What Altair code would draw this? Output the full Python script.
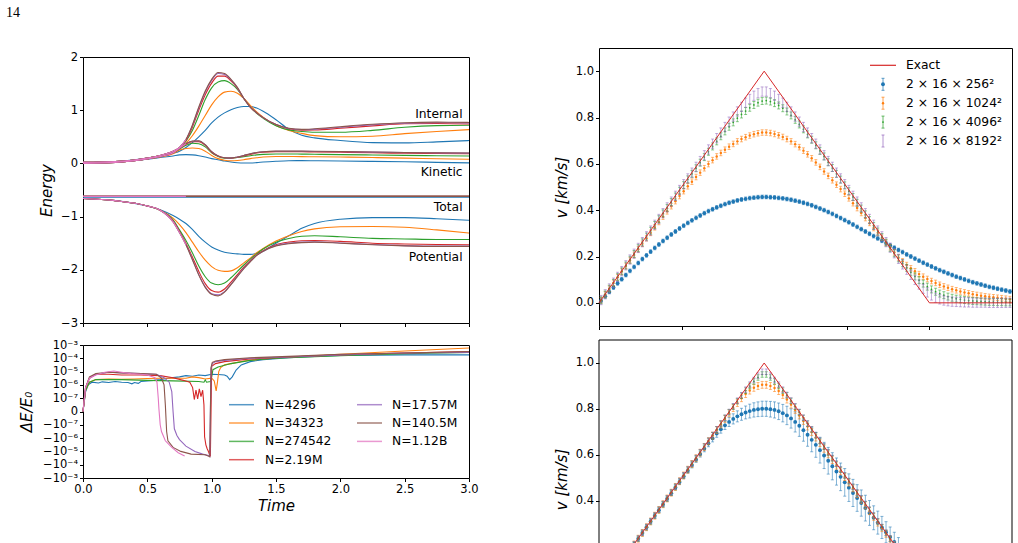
import altair as alt
import numpy as np
import pandas as pd

FONT = "DejaVu Sans"
COLORS = ["#1f77b4", "#ff7f0e", "#2ca02c", "#d62728", "#9467bd", "#8c564b", "#e377c2"]
RUNS = ["N=4296", "N=34323", "N=274542", "N=2.19M", "N=17.57M", "N=140.5M", "N=1.12B"]

# ---------------- Energy panel ----------------
T_E = [0, 0.25, 0.5, 0.6, 0.7, 0.75, 0.8, 0.85, 0.9, 0.95, 1.0, 1.05, 1.1, 1.15,
       1.2, 1.25, 1.3, 1.35, 1.4, 1.5, 1.6, 1.7, 1.8, 2.0, 2.25, 2.5, 2.75, 3.0]

INT_4296 = [0.02, 0.035, 0.10, 0.14, 0.19, 0.23, 0.30, 0.39, 0.50, 0.62, 0.76, 0.87, 0.95, 1.01,
            1.05, 1.07, 1.07, 1.04, 0.98, 0.82, 0.64, 0.53, 0.48, 0.43, 0.39, 0.385, 0.405, 0.43]
INT_34323 = [0.02, 0.035, 0.10, 0.15, 0.21, 0.28, 0.38, 0.52, 0.70, 0.90, 1.10, 1.25, 1.34, 1.355,
             1.32, 1.22, 1.09, 0.97, 0.87, 0.71, 0.62, 0.565, 0.522, 0.50, 0.51, 0.56, 0.60, 0.635]
INT_274542 = [0.02, 0.035, 0.10, 0.15, 0.22, 0.29, 0.42, 0.62, 0.90, 1.20, 1.42, 1.53, 1.555, 1.50,
              1.39, 1.22, 1.06, 0.94, 0.85, 0.71, 0.63, 0.60, 0.585, 0.585, 0.62, 0.68, 0.71, 0.716]
INT_219M = [0.02, 0.035, 0.10, 0.15, 0.23, 0.29, 0.43, 0.68, 1.0, 1.29, 1.51, 1.64, 1.64, 1.55,
            1.41, 1.22, 1.06, 0.95, 0.86, 0.73, 0.65, 0.625, 0.628, 0.66, 0.705, 0.745, 0.75, 0.74]
INT_1757M = [0.02, 0.035, 0.10, 0.15, 0.23, 0.30, 0.45, 0.71, 1.04, 1.34, 1.56, 1.69, 1.67, 1.57,
             1.42, 1.22, 1.06, 0.95, 0.86, 0.73, 0.655, 0.635, 0.64, 0.68, 0.725, 0.755, 0.765, 0.76]
INT_1405M = [0.02, 0.035, 0.10, 0.15, 0.23, 0.30, 0.45, 0.72, 1.06, 1.36, 1.58, 1.71, 1.69, 1.58,
             1.43, 1.22, 1.06, 0.95, 0.86, 0.73, 0.66, 0.64, 0.65, 0.69, 0.735, 0.765, 0.775, 0.77]
INT_112B = [0.02, 0.035, 0.10, 0.15, 0.23, 0.30, 0.45]

KIN_4296 = [0.0, 0.02, 0.08, 0.11, 0.14, 0.16, 0.165, 0.16, 0.145, 0.12, 0.09, 0.07, 0.045, 0.025,
            0.012, 0.007, 0.008, 0.015, 0.025, 0.04, 0.05, 0.052, 0.05, 0.045, 0.038, 0.03, 0.02, 0.01]
KIN_34323 = [0.0, 0.02, 0.085, 0.12, 0.18, 0.25, 0.28, 0.29, 0.28, 0.23, 0.15, 0.09, 0.06, 0.05,
             0.055, 0.07, 0.09, 0.105, 0.12, 0.13, 0.13, 0.128, 0.125, 0.12, 0.11, 0.1, 0.088, 0.077]
KIN_274542 = [0.0, 0.02, 0.085, 0.13, 0.2, 0.27, 0.34, 0.38, 0.37, 0.31, 0.2, 0.13, 0.10, 0.10,
              0.11, 0.125, 0.145, 0.16, 0.17, 0.178, 0.178, 0.175, 0.172, 0.165, 0.158, 0.15, 0.145, 0.14]
KIN_219M = [0.0, 0.02, 0.085, 0.13, 0.2, 0.28, 0.36, 0.41, 0.41, 0.34, 0.21, 0.14, 0.105, 0.10,
            0.115, 0.14, 0.17, 0.195, 0.21, 0.22, 0.22, 0.218, 0.215, 0.21, 0.2, 0.19, 0.185, 0.18]
KIN_1757M = [0.0, 0.02, 0.085, 0.13, 0.2, 0.285, 0.37, 0.415, 0.42, 0.35, 0.22, 0.14, 0.105, 0.10,
             0.12, 0.15, 0.18, 0.205, 0.22, 0.228, 0.228, 0.226, 0.225, 0.222, 0.212, 0.203, 0.198, 0.193]
KIN_1405M = [0.0, 0.02, 0.085, 0.13, 0.2, 0.29, 0.37, 0.42, 0.425, 0.35, 0.22, 0.14, 0.105, 0.10,
             0.12, 0.15, 0.18, 0.205, 0.22, 0.23, 0.23, 0.23, 0.228, 0.225, 0.215, 0.205, 0.2, 0.195]
KIN_112B = [0.0, 0.02, 0.085, 0.13, 0.2, 0.29, 0.37]

POT_4296 = [-0.66, -0.70, -0.80, -0.87, -0.98, -1.05, -1.13, -1.24, -1.37, -1.48, -1.57, -1.63, -1.67, -1.69,
            -1.70, -1.71, -1.71, -1.69, -1.65, -1.50, -1.36, -1.22, -1.13, -1.05, -1.02, -1.02, -1.04, -1.07]
POT_34323 = [-0.66, -0.70, -0.80, -0.88, -1.03, -1.15, -1.30, -1.48, -1.66, -1.82, -1.94, -2.01, -2.03, -2.02,
             -1.96, -1.87, -1.78, -1.68, -1.60, -1.46, -1.36, -1.28, -1.23, -1.19, -1.185, -1.2, -1.25, -1.31]
POT_274542 = [-0.66, -0.70, -0.80, -0.88, -1.06, -1.25, -1.45, -1.68, -1.93, -2.13, -2.25, -2.28, -2.25, -2.15,
              -2.03, -1.91, -1.80, -1.70, -1.61, -1.48, -1.41, -1.37, -1.36, -1.38, -1.41, -1.42, -1.43, -1.43]
POT_219M = [-0.66, -0.70, -0.80, -0.88, -1.08, -1.28, -1.5, -1.76, -2.03, -2.26, -2.39, -2.42, -2.36, -2.23,
            -2.09, -1.95, -1.83, -1.72, -1.64, -1.53, -1.48, -1.455, -1.45, -1.465, -1.5, -1.515, -1.525, -1.53]
POT_1757M = [-0.66, -0.70, -0.80, -0.88, -1.09, -1.3, -1.52, -1.8, -2.09, -2.32, -2.45, -2.47, -2.41, -2.27,
             -2.12, -1.97, -1.84, -1.73, -1.65, -1.545, -1.50, -1.48, -1.475, -1.495, -1.525, -1.545, -1.555, -1.555]
POT_1405M = [-0.66, -0.70, -0.80, -0.88, -1.1, -1.3, -1.53, -1.81, -2.1, -2.33, -2.46, -2.49, -2.42, -2.28,
             -2.13, -1.98, -1.85, -1.73, -1.65, -1.55, -1.51, -1.49, -1.48, -1.5, -1.53, -1.55, -1.56, -1.56]
POT_112B = [-0.66, -0.70, -0.80, -0.88, -1.1, -1.3, -1.53]

TOT_LEVEL = [-0.635, -0.62, -0.62, -0.62, -0.62, -0.62, -0.62]
TOT_T = [[0.0, 3.0], [0.0, 3.0], [0.0, 3.0], [0.0, 3.0], [0.0, 3.0], [0.0, 3.0], [0.0, 0.8]]

INTERNAL = [INT_4296, INT_34323, INT_274542, INT_219M, INT_1757M, INT_1405M, INT_112B]
KINETIC = [KIN_4296, KIN_34323, KIN_274542, KIN_219M, KIN_1757M, KIN_1405M, KIN_112B]
POTENTIAL = [POT_4296, POT_34323, POT_274542, POT_219M, POT_1757M, POT_1405M, POT_112B]

LABEL_TEXT = ["Internal", "Kinetic", "Total", "Potential"]
LABEL_T = [2.95, 2.95, 2.95, 2.95]
LABEL_E = [0.93, -0.167, -0.82, -1.765]

# ---------------- Energy error panel (dE/E0) ----------------
DT = [
    [0, 0.02, 0.04, 0.07, 0.12, 0.15, 0.2, 0.25, 0.3, 0.35, 0.38, 0.4, 0.43, 0.45, 0.5, 0.55, 0.6, 0.65, 0.7,
     0.75, 0.8, 0.85, 0.9, 0.95, 1.0, 1.05, 1.1, 1.12, 1.14, 1.16, 1.19, 1.23, 1.3, 1.4, 1.6, 1.8, 2.0, 2.5, 3.0],
    [0, 0.02, 0.05, 0.1, 0.2, 0.3, 0.4, 0.5, 0.6, 0.7, 0.8, 0.85, 0.9, 0.95, 1.0, 1.02, 1.035, 1.045, 1.055,
     1.07, 1.1, 1.15, 1.25, 1.4, 1.6, 2.0, 2.5, 3.0],
    [0, 0.02, 0.05, 0.1, 0.3, 0.5, 0.7, 0.9, 0.94, 0.95, 0.96, 0.99, 1.0, 1.01, 1.05, 1.15, 1.3, 1.5, 2.0, 2.5, 3.0],
    [0, 0.02, 0.05, 0.1, 0.2, 0.3, 0.45, 0.6, 0.7, 0.78, 0.83, 0.852, 0.865, 0.878, 0.891, 0.904, 0.917, 0.93,
     0.94, 0.945, 0.955, 0.965, 0.975, 0.982, 0.99, 1.0, 1.03, 1.1, 1.3, 1.6, 2.0, 2.5, 3.0],
    [0, 0.02, 0.05, 0.1, 0.2, 0.3, 0.45, 0.57, 0.63, 0.67, 0.69, 0.70, 0.71, 0.73, 0.75, 0.8, 0.87, 0.93,
     0.975, 0.985, 0.995, 1.005, 1.03, 1.1, 1.3, 1.6, 2.0, 2.5, 3.0],
    [0, 0.02, 0.05, 0.1, 0.2, 0.3, 0.45, 0.57, 0.61, 0.63, 0.64, 0.65, 0.66, 0.7, 0.76, 0.84, 0.95, 0.985,
     0.995, 1.005, 1.03, 1.1, 1.3, 1.6, 2.0, 2.5, 3.0],
    [0, 0.02, 0.05, 0.1, 0.17, 0.24, 0.3, 0.37, 0.45, 0.5, 0.56, 0.575, 0.585, 0.59, 0.6, 0.61, 0.64, 0.69,
     0.74, 0.79],
]
DE = [
    [0, 3e-7, 1e-6, 1.6e-6, 1.4e-6, 1.7e-6, 1.5e-6, 1.8e-6, 1.6e-6, 1.5e-6, 1.2e-6, 1.5e-6, 1.3e-6, 1.8e-6,
     2e-6, 2.2e-6, 2.5e-6, 3e-6, 3.5e-6, 4e-6, 5e-6, 4.5e-6, 5.6e-6, 5e-6, 6.3e-6, 6e-6, 5.5e-6, 4.5e-6,
     2.5e-6, 4e-6, 1.3e-5, 3.2e-5, 5.6e-5, 8e-5, 1.1e-4, 1.4e-4, 1.65e-4, 1.8e-4, 1.8e-4],
    [0, 4e-7, 1.6e-6, 2.5e-6, 2.8e-6, 2.6e-6, 2.8e-6, 3e-6, 3.2e-6, 3.2e-6, 3.2e-6, 4e-6, 3.5e-6, 2.8e-6,
     3.2e-6, 2e-6, 3.5e-7, 1.6e-6, 1e-5, 2e-5, 3.2e-5, 4e-5, 6.3e-5, 9e-5, 1.26e-4, 2e-4, 3.5e-4, 6e-4],
    [0, 4e-7, 1.6e-6, 2.5e-6, 2.5e-6, 2.2e-6, 2e-6, 1.8e-6, 1.6e-6, 2.4e-6, 1.6e-6, 1.8e-6, 4e-6, 1.4e-5,
     2.2e-5, 4e-5, 7e-5, 1e-4, 1.6e-4, 2.2e-4, 2.8e-4],
    [0, 6.3e-7, 3.2e-6, 6.3e-6, 6.3e-6, 5.6e-6, 5.6e-6, 5e-6, 3.5e-6, 2.2e-6, 1.6e-6, 6.3e-7, 9e-8, 4e-7,
     9.5e-8, 5e-7, 1.3e-7, 4e-7, 5e-8, -8e-7, -3.2e-6, -6.3e-6, -1e-5, -1.6e-5, -2e-5, 2.5e-5, 4e-5, 5.6e-5,
     9e-5, 1.26e-4, 1.8e-4, 2.5e-4, 3.2e-4],
    [0, 6.3e-7, 3.2e-6, 6.3e-6, 9e-6, 8e-6, 7e-6, 6.3e-6, 3.5e-6, 1.6e-6, 3.2e-7, 0, -2e-7, -6.3e-7, -1.3e-6,
     -4e-6, -1e-5, -1.6e-5, -2e-5, -2.5e-5, 1.6e-5, 4e-5, 5.6e-5, 7e-5, 1e-4, 1.26e-4, 1.8e-4, 2.5e-4, 2.8e-4],
    [0, 6.3e-7, 4e-6, 7e-6, 9e-6, 8e-6, 7e-6, 6.3e-6, 3.2e-6, 1e-6, 5e-8, -3.2e-7, -1.6e-6, -5e-6, -1e-5,
     -1.6e-5, -1.8e-5, -2.5e-5, 2e-5, 5e-5, 6.3e-5, 8e-5, 1.1e-4, 1.4e-4, 2e-4, 2.5e-4, 3.2e-4],
    [0, 6.3e-7, 3.2e-6, 5.6e-6, 9e-6, 1.1e-5, 9e-6, 7e-6, 6.3e-6, 5.6e-6, 3.5e-6, 1.6e-6, 1e-7, 2e-8, -1e-7,
     -3.2e-7, -1.6e-6, -5e-6, -1.26e-5, -2.2e-5],
]

# ---------------- Velocity panels ----------------
X_V = [round(0.005 + 0.01 * i, 3) for i in range(100)]
EXACT_X = [0.0, 0.4, 0.8, 1.0]
EXACT_V = [0.0, 1.0, 0.0, 0.0]
RES_LABELS = ["2 × 16 × 256²", "2 × 16 × 1024²", "2 × 16 × 4096²", "2 × 16 × 8192²"]
RES_COLORS = ["#1f77b4", "#ff7f0e", "#2ca02c", "#9467bd"]
RES_DOT = [15, 6, 3, 0]

V256 = [0.009, 0.028, 0.047, 0.066, 0.084, 0.102, 0.120, 0.138, 0.155, 0.172,
        0.189, 0.205, 0.221, 0.237, 0.252, 0.267, 0.281, 0.295, 0.308, 0.321,
        0.333, 0.345, 0.356, 0.367, 0.377, 0.387, 0.396, 0.404, 0.412, 0.419,
        0.426, 0.432, 0.437, 0.442, 0.446, 0.449, 0.452, 0.454, 0.456, 0.457,
        0.457, 0.456, 0.455, 0.453, 0.451, 0.448, 0.445, 0.441, 0.437, 0.432,
        0.427, 0.421, 0.414, 0.407, 0.400, 0.392, 0.384, 0.375, 0.366, 0.357,
        0.348, 0.338, 0.328, 0.318, 0.308, 0.298, 0.288, 0.278, 0.268, 0.258,
        0.248, 0.238, 0.228, 0.219, 0.209, 0.200, 0.191, 0.182, 0.173, 0.165,
        0.157, 0.149, 0.141, 0.134, 0.127, 0.120, 0.113, 0.107, 0.101, 0.095,
        0.089, 0.084, 0.079, 0.074, 0.069, 0.065, 0.061, 0.057, 0.053, 0.049]
V1024 = [0.011, 0.036, 0.061, 0.086, 0.110, 0.135, 0.159, 0.183, 0.207, 0.231,
         0.255, 0.279, 0.302, 0.326, 0.349, 0.372, 0.395, 0.417, 0.439, 0.461,
         0.482, 0.503, 0.523, 0.543, 0.562, 0.581, 0.599, 0.616, 0.632, 0.647,
         0.661, 0.674, 0.686, 0.697, 0.707, 0.715, 0.722, 0.728, 0.732, 0.735,
         0.735, 0.733, 0.729, 0.723, 0.716, 0.707, 0.697, 0.685, 0.672, 0.657,
         0.641, 0.624, 0.606, 0.587, 0.567, 0.548, 0.529, 0.510, 0.491, 0.471,
         0.451, 0.430, 0.409, 0.388, 0.366, 0.345, 0.323, 0.302, 0.281, 0.260,
         0.240, 0.218, 0.196, 0.179, 0.163, 0.149, 0.136, 0.124, 0.113, 0.103,
         0.094, 0.086, 0.078, 0.071, 0.065, 0.059, 0.054, 0.049, 0.045, 0.041,
         0.037, 0.034, 0.031, 0.028, 0.026, 0.024, 0.022, 0.020, 0.018, 0.016]
V4096 = [0.011, 0.036, 0.061, 0.086, 0.111, 0.136, 0.161, 0.186, 0.211, 0.236,
         0.261, 0.286, 0.311, 0.336, 0.361, 0.386, 0.410, 0.435, 0.459, 0.484,
         0.508, 0.533, 0.557, 0.581, 0.605, 0.629, 0.652, 0.675, 0.697, 0.719,
         0.740, 0.760, 0.779, 0.797, 0.813, 0.828, 0.842, 0.854, 0.864, 0.871,
         0.873, 0.869, 0.862, 0.852, 0.840, 0.826, 0.809, 0.790, 0.770, 0.749,
         0.727, 0.704, 0.680, 0.656, 0.632, 0.607, 0.582, 0.557, 0.532, 0.507,
         0.482, 0.457, 0.432, 0.407, 0.382, 0.357, 0.332, 0.308, 0.284, 0.260,
         0.237, 0.214, 0.192, 0.171, 0.151, 0.132, 0.114, 0.098, 0.083, 0.070,
         0.058, 0.048, 0.040, 0.033, 0.027, 0.022, 0.018, 0.015, 0.012, 0.010,
         0.008, 0.007, 0.006, 0.005, 0.004, 0.004, 0.003, 0.003, 0.002, 0.002]
V8192 = [0.012, 0.037, 0.062, 0.087, 0.112, 0.137, 0.162, 0.187, 0.212, 0.237,
         0.262, 0.287, 0.312, 0.337, 0.362, 0.387, 0.412, 0.437, 0.462, 0.487,
         0.512, 0.537, 0.562, 0.587, 0.612, 0.637, 0.662, 0.687, 0.711, 0.735,
         0.759, 0.782, 0.804, 0.826, 0.846, 0.864, 0.880, 0.894, 0.905, 0.912,
         0.912, 0.905, 0.894, 0.880, 0.864, 0.846, 0.826, 0.804, 0.782, 0.759,
         0.735, 0.711, 0.687, 0.662, 0.637, 0.612, 0.587, 0.562, 0.537, 0.512,
         0.487, 0.462, 0.437, 0.412, 0.387, 0.362, 0.337, 0.312, 0.287, 0.262,
         0.238, 0.214, 0.190, 0.166, 0.143, 0.121, 0.099, 0.079, 0.061, 0.045,
         0.032, 0.022, 0.015, 0.010, 0.007, 0.005, 0.004, 0.003, 0.002, 0.002,
         0.001, 0.001, 0.001, 0.001, 0.0, 0.0, 0.0, 0.0, 0.0, 0.0]
ERR_TOP = [0.008, 0.012, 0.015, 0.02]

X_B = X_V[8:73]
B256 = [0.211, 0.236, 0.261, 0.286, 0.311, 0.336, 0.360, 0.385, 0.410, 0.434,
        0.459, 0.483, 0.508, 0.532, 0.556, 0.580, 0.604, 0.627, 0.650, 0.672,
        0.693, 0.712, 0.729, 0.744, 0.757, 0.768, 0.777, 0.785, 0.791, 0.796,
        0.799, 0.801, 0.801, 0.799, 0.796, 0.790, 0.782, 0.772, 0.759, 0.744,
        0.727, 0.708, 0.688, 0.666, 0.644, 0.621, 0.598, 0.575, 0.551, 0.528,
        0.505, 0.481, 0.458, 0.435, 0.413, 0.391, 0.369, 0.348, 0.327, 0.306,
        0.285, 0.264, 0.243, 0.222, 0.201]
B256_ERR = [0.008, 0.008, 0.008, 0.009, 0.009, 0.009, 0.009, 0.010, 0.010, 0.010,
            0.010, 0.010, 0.011, 0.011, 0.012, 0.012, 0.013, 0.013, 0.014, 0.015,
            0.016, 0.017, 0.018, 0.020, 0.022, 0.024, 0.026, 0.028, 0.030, 0.031,
            0.032, 0.033, 0.033, 0.034, 0.035, 0.036, 0.038, 0.040, 0.042, 0.044,
            0.046, 0.048, 0.050, 0.052, 0.054, 0.056, 0.057, 0.058, 0.059, 0.059,
            0.060, 0.060, 0.060, 0.059, 0.058, 0.057, 0.056, 0.054, 0.052, 0.050,
            0.048, 0.046, 0.044, 0.042, 0.040]
B1024 = [0.211, 0.236, 0.261, 0.286, 0.311, 0.336, 0.361, 0.386, 0.411, 0.436,
         0.461, 0.486, 0.511, 0.536, 0.561, 0.586, 0.610, 0.635, 0.660, 0.684,
         0.709, 0.733, 0.757, 0.781, 0.804, 0.826, 0.847, 0.865, 0.880, 0.892,
         0.900, 0.905, 0.905, 0.900, 0.891, 0.878, 0.861, 0.841, 0.819, 0.796,
         0.772, 0.748, 0.724, 0.700, 0.676, 0.652, 0.627, 0.603, 0.578, 0.554,
         0.529, 0.504, 0.480, 0.455, 0.430, 0.405, 0.381, 0.356, 0.331, 0.306,
         0.282, 0.257, 0.232, 0.208, 0.184]
B4096 = [0.211, 0.236, 0.261, 0.286, 0.311, 0.336, 0.361, 0.386, 0.411, 0.436,
         0.461, 0.486, 0.511, 0.536, 0.561, 0.586, 0.611, 0.636, 0.661, 0.686,
         0.711, 0.736, 0.761, 0.786, 0.810, 0.834, 0.858, 0.880, 0.900, 0.920,
         0.937, 0.950, 0.950, 0.937, 0.920, 0.900, 0.880, 0.860, 0.835, 0.810,
         0.786, 0.761, 0.736, 0.711, 0.686, 0.661, 0.636, 0.611, 0.586, 0.561,
         0.536, 0.511, 0.486, 0.461, 0.436, 0.411, 0.386, 0.361, 0.336, 0.311,
         0.286, 0.261, 0.236, 0.211, 0.186]
B8192 = [0.212, 0.237, 0.262, 0.287, 0.312, 0.337, 0.362, 0.387, 0.412, 0.437,
         0.462, 0.487, 0.512, 0.537, 0.562, 0.587, 0.612, 0.637, 0.662, 0.687,
         0.712, 0.737, 0.762, 0.787, 0.812, 0.836, 0.860, 0.884, 0.906, 0.926,
         0.945, 0.962, 0.962, 0.945, 0.926, 0.906, 0.884, 0.861, 0.837, 0.812,
         0.787, 0.762, 0.737, 0.712, 0.687, 0.662, 0.637, 0.612, 0.587, 0.562,
         0.537, 0.512, 0.487, 0.462, 0.437, 0.412, 0.387, 0.362, 0.337, 0.312,
         0.287, 0.262, 0.237, 0.212, 0.187]
ERR_BOT_OTHERS = [0.015, 0.012, 0.012]

ONE = pd.DataFrame({"k": [0]})


def symlog(v):
    a = abs(v)
    if a < 1e-7:
        return v * 1e7
    return float(np.sign(v) * (np.log10(a) + 8.0))


def ltext(x, y, txt, size=12.3, font=FONT):
    return alt.Chart(ONE).mark_text(text=txt, font=font, fontSize=size, align="left",
                                    baseline="middle", color="black").encode(
        x=alt.value(x), y=alt.value(y))


def lrule(x1, x2, y1, y2, color, width=1.5, opacity=1.0):
    return alt.Chart(ONE).mark_rule(color=color, strokeWidth=width, opacity=opacity).encode(
        x=alt.value(x1), x2=alt.value(x2), y=alt.value(y1), y2=alt.value(y2))


# ---------- Energy chart ----------
XE = alt.X("t:Q", scale=alt.Scale(domain=[0, 3], nice=False, zero=False),
           axis=alt.Axis(values=[0, 0.5, 1, 1.5, 2, 2.5, 3], labels=False, title=None))
YE = alt.Y("E:Q", scale=alt.Scale(domain=[-3, 2], nice=False, zero=False),
           axis=alt.Axis(values=[-3, -2, -1, 0, 1, 2], format="d", title="Energy",
                         titleX=-37, titleBaseline="middle"))
energy_layers = []
for i, col in enumerate(COLORS):
    n = len(INTERNAL[i])
    rows = []
    for q, arr in (("int", INTERNAL[i]), ("kin", KINETIC[i]), ("pot", POTENTIAL[i])):
        for t, e in zip(T_E[:n], arr):
            rows.append({"t": t, "E": e, "q": q})
    for t in TOT_T[i]:
        rows.append({"t": t, "E": TOT_LEVEL[i], "q": "tot"})
    df = pd.DataFrame(rows)
    energy_layers.append(
        alt.Chart(df).mark_line(color=col, strokeWidth=1.1, interpolate="monotone").encode(
            x=XE, y=YE, detail="q:N"))
lab_df = pd.DataFrame({"t": LABEL_T, "E": LABEL_E, "lab": LABEL_TEXT})
energy_layers.append(
    alt.Chart(lab_df).mark_text(font=FONT, fontSize=12.3, align="right", baseline="middle",
                                color="black").encode(x=XE, y=YE, text="lab:N"))
energy = alt.layer(*energy_layers).properties(width=386, height=266)

# ---------- dE/E0 chart ----------
XD = alt.X("t:Q", scale=alt.Scale(domain=[0, 3], nice=False, zero=False),
           axis=alt.Axis(values=[0, 0.5, 1, 1.5, 2, 2.5, 3], format=".1f", title="Time",
                         titleY=27, titleBaseline="middle"))
SUP = "['', '⁻⁷', '⁻⁶', '⁻⁵', '⁻⁴', '⁻³']"
YD = alt.Y("y:Q", scale=alt.Scale(domain=[-5, 5], nice=False, zero=False),
           axis=alt.Axis(values=[-5, -4, -3, -2, -1, 0, 1, 2, 3, 4, 5], title="ΔE/E₀",
                         titleX=-57, titleBaseline="middle",
                         labelExpr="datum.value == 0 ? '0' : (datum.value > 0 ? '10' : '−10') + "
                                   + SUP + "[abs(datum.value)]"))
de_layers = []
for i, col in enumerate(COLORS):
    df = pd.DataFrame({"t": DT[i], "y": [symlog(v) for v in DE[i]]})
    de_layers.append(alt.Chart(df).mark_line(color=col, strokeWidth=1.1).encode(x=XD, y=YD))
rows_y = [59.7, 78.0, 96.4, 114.7]
for i, (name, col) in enumerate(zip(RUNS, COLORS)):
    if i < 4:
        x1, xt, y = 146, 182, rows_y[i]
    else:
        x1, xt, y = 274, 309, rows_y[i - 4]
    de_layers.append(lrule(x1, x1 + 25, y, y, col, width=1.5, opacity=0.75))
    de_layers.append(ltext(xt, y, name))
de_chart = alt.layer(*de_layers).properties(width=386, height=133)

# ---------- velocity charts ----------
def vpanel(xs, vals, errs, ydom, height, yvals, show_xaxis, clip, title_y=None):
    xaxis = alt.Axis(values=[0, 0.2, 0.4, 0.6, 0.8, 1.0], labels=False, title=None) if show_xaxis else None
    XV = alt.X("x:Q", scale=alt.Scale(domain=[0, 1], nice=False, zero=False), axis=xaxis)
    akw = dict(values=yvals, format=".1f", title="v [km/s]", titleX=-38, titleBaseline="middle")
    if title_y is not None:
        akw["titleY"] = title_y
    ysc = alt.Scale(domain=ydom, nice=False, zero=False)
    YV = alt.Y("v:Q", scale=ysc, axis=alt.Axis(**akw))
    layers = []
    for k in range(4):
        df = pd.DataFrame({"x": xs, "v": vals[k], "err": errs[k]})
        base = alt.Chart(df).transform_calculate(lo="datum.v - datum.err", hi="datum.v + datum.err")
        c = RES_COLORS[k]
        layers.append(base.mark_rule(color=c, opacity=0.55, strokeWidth=1, clip=clip).encode(
            x=XV, y=alt.Y("lo:Q", scale=ysc, axis=alt.Axis(**akw)), y2="hi:Q"))
        for f in ("lo", "hi"):
            layers.append(base.mark_tick(color=c, opacity=0.55, orient="horizontal", size=3,
                                         thickness=1, clip=clip).encode(
                x=XV, y=alt.Y(f + ":Q", scale=ysc, axis=alt.Axis(**akw))))
        if RES_DOT[k] > 0:
            layers.append(base.mark_circle(color=c, size=RES_DOT[k], opacity=1, clip=clip).encode(
                x=XV, y=YV))
    ex = pd.DataFrame({"x": EXACT_X, "v": EXACT_V})
    layers.append(alt.Chart(ex).mark_line(color="#d62728", strokeWidth=1, clip=clip).encode(x=XV, y=YV))
    return layers


top_layers = vpanel(X_V, [V256, V1024, V4096, V8192], ERR_TOP, [-0.1, 1.1], 278,
                    [0, 0.2, 0.4, 0.6, 0.8, 1.0], True, False)
# legend (top right)
top_layers.append(lrule(271, 297, 17.3, 17.3, "#d62728", width=1.2))
top_layers.append(ltext(307, 17.3, "Exact"))
leg_rows = [36.3, 55.2, 74.1, 93.0]
for k in range(4):
    y0 = leg_rows[k]
    c = RES_COLORS[k]
    top_layers.append(lrule(284, 284, y0 - 6, y0 + 6, c, width=1, opacity=0.7))
    top_layers.append(lrule(282.5, 285.5, y0 - 6, y0 - 6, c, width=1, opacity=0.7))
    top_layers.append(lrule(282.5, 285.5, y0 + 6, y0 + 6, c, width=1, opacity=0.7))
    if RES_DOT[k] > 0:
        top_layers.append(alt.Chart(ONE).mark_circle(color=c, size=RES_DOT[k], opacity=1).encode(
            x=alt.value(284), y=alt.value(y0)))
    top_layers.append(ltext(307, y0, RES_LABELS[k]))
vtop = alt.layer(*top_layers).properties(width=413, height=278)

bot_layers = vpanel(X_B, [B256, B1024, B4096, B8192],
                    [B256_ERR] + ERR_BOT_OTHERS, [0.213, 1.1], 204,
                    [0.4, 0.6, 0.8, 1.0], False, True, title_y=139)
bot_layers.append(lrule(0, 0, 0, 203, "black", width=1))
bot_layers.append(lrule(413, 413, 0, 203, "black", width=1))
bot_layers.append(lrule(0, 413, 0, 0, "black", width=1))
vbot = alt.layer(*bot_layers).properties(width=413, height=204,
                                          view=alt.ViewBackground(stroke="transparent"))

# ---------- page number / spacer ----------
spacer = alt.Chart(ONE).mark_text(text="14", font="Liberation Serif", fontSize=14, align="left",
                                  baseline="middle", color="black").encode(
    x=alt.value(-77), y=alt.value(-35)).properties(
    width=386, height=1, view=alt.ViewBackground(stroke="transparent"))

left_inner = alt.vconcat(energy, de_chart, spacing=22, bounds="flush")
left = alt.vconcat(spacer, left_inner, spacing=8, bounds="flush")
right = alt.vconcat(vtop, vbot, spacing=14, bounds="flush")

# nested concat groups count as zero width in a flush layout, so the spacing
# covers the left column's plot width (386) plus the gap (130)
chart = alt.hconcat(left, right, spacing=516, bounds="flush").properties(
    padding={"left": 5, "top": 5, "right": 0, "bottom": 0}
).configure_view(stroke="black", strokeWidth=1).configure_axis(
    grid=False, domain=False, tickColor="black", tickSize=3.5, tickWidth=1,
    labelColor="black", labelFont=FONT, labelFontSize=11.5, labelPadding=2, labelFlush=False,
    titleFont=FONT, titleFontSize=15, titleFontStyle="italic", titleFontWeight="normal",
    titleColor="black"
)

chart.save("out.html", embed_options={"renderer": "svg", "actions": False})
